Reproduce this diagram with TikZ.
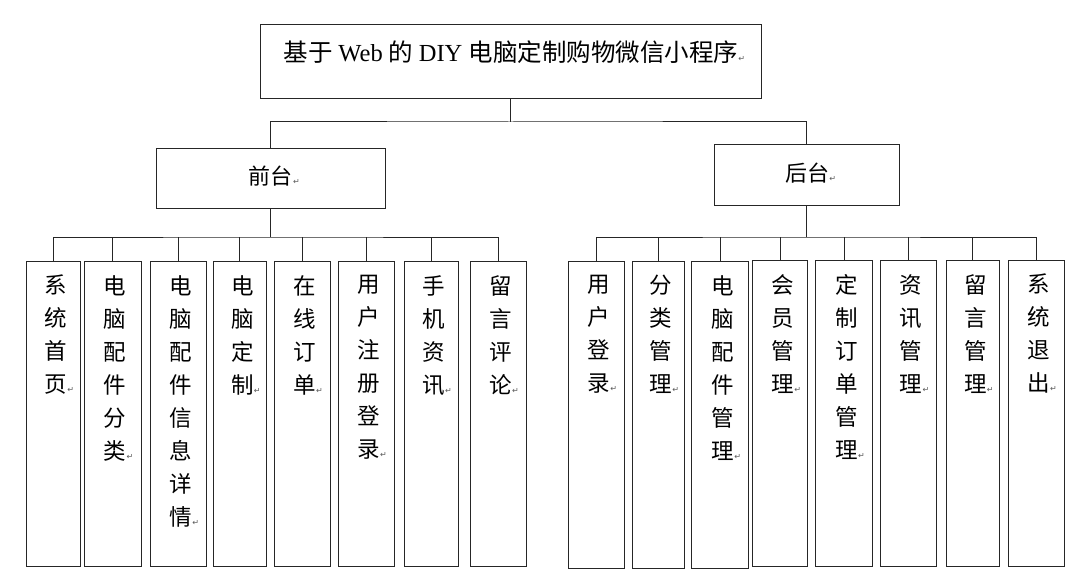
\documentclass[tikz,border=0pt]{standalone}
\usepackage{fontspec}
\setmainfont{Liberation Serif}
\newfontfamily\cjk{Noto Sans CJK SC}
\newfontfamily\symf{DejaVu Sans}
\newcommand{\ret}{\rlap{\kern0.3pt\symf\fontsize{8}{8}\selectfont\textcolor{black!65}{↵}}}
\newcommand{\leafbox}[6]{%
  \node[box, minimum width=#4pt, minimum height=#5pt] (#1) at (#2,#3) {};
  \node[leaftxt] (#1t) at ([xshift=2.5pt, yshift=-14.5pt]#1.north) {#6};
}
\begin{document}
\begin{tikzpicture}[x=1pt,y=-1pt,
  box/.style={draw=black!85, line width=1pt, rectangle, inner sep=0pt},
  leaftxt/.style={anchor=north, inner sep=0pt, align=center, font=\cjk\fontsize{22.5}{33}\selectfont},
  headtxt/.style={inner sep=0pt, font=\cjk\fontsize{22}{22}\selectfont},
  conn/.style={draw=black!85, line width=1pt}]
\useasboundingbox[fill=white] (0,0) rectangle (1084,580);

% root
\node[box, minimum width=501pt, minimum height=74pt] (root) at (510.5,62) {};
\node[inner sep=0pt, font=\fontsize{24.5}{24.5}\selectfont] (title) at (511,52)
  {\cjk 基于 \rmfamily Web \cjk 的 \rmfamily DIY \cjk 电脑定制购物微信小程序\ret};

% second level
\node[box, minimum width=228.5pt, minimum height=59.5pt] (front) at (270.75,178.75) {};
\node[headtxt] (frontt) at (270.7,176.5) {前台\ret};
\node[box, minimum width=185pt, minimum height=61pt] (back) at (806.5,175.5) {};
\node[headtxt] (backt) at (807,173.4) {后台\ret};

% front leaves
\leafbox{L1}{53.25}{413.5}{53.5}{305}{系\\统\\首\\页\ret}
\leafbox{L2}{112.5}{413.5}{57}{305}{电\\脑\\配\\件\\分\\类\ret}
\leafbox{L3}{178.3}{413.5}{56.6}{305}{电\\脑\\配\\件\\信\\息\\详\\情\ret}
\leafbox{L4}{239.9}{413.5}{52.2}{305}{电\\脑\\定\\制\ret}
\leafbox{L5}{302}{413.5}{56}{305}{在\\线\\订\\单\ret}
\leafbox{L6}{366}{413.5}{56}{305}{用\\户\\注\\册\\登\\录\ret}
\leafbox{L7}{431}{413.5}{54}{305}{手\\机\\资\\讯\ret}
\leafbox{L8}{498}{413.5}{56}{305}{留\\言\\评\\论\ret}

% back leaves
\leafbox{R1}{596.4}{414.5}{55.2}{307}{用\\户\\登\\录\ret}
\leafbox{R2}{658.3}{414.5}{51.4}{307}{分\\类\\管\\理\ret}
\leafbox{R3}{720.25}{414.5}{57.3}{307}{电\\脑\\配\\件\\管\\理\ret}
\leafbox{R4}{780.3}{413}{55.2}{306}{会\\员\\管\\理\ret}
\leafbox{R5}{844}{413}{56.9}{306}{定\\制\\订\\单\\管\\理\ret}
\leafbox{R6}{908.5}{413}{56.2}{306}{资\\讯\\管\\理\ret}
\leafbox{R7}{972.9}{413}{52.3}{306}{留\\言\\管\\理\ret}
\leafbox{R8}{1036}{413}{56}{306}{系\\统\\退\\出\ret}

% root connectors
\coordinate (rbus) at ([yshift=-22.5pt]root.south);
\draw[conn] (root.south) -- (rbus);
\draw[conn] (front.north) |- (rbus) -| (back.north);

% front connectors
\coordinate (fbus) at ([yshift=-28pt]front.south);
\draw[conn] (front.south) -- (fbus);
\draw[conn] (L1.north) |- (fbus) -| (L8.north);
\foreach \n in {L2,L3,L4,L5,L6,L7} \draw[conn] (\n.north) -- (\n.north |- fbus);

% back connectors
\coordinate (bbus) at ([yshift=-30.5pt]back.south);
\draw[conn] (back.south) -- (bbus);
\draw[conn] (R1.north) |- (bbus) -| (R8.north);
\foreach \n in {R2,R3,R4,R5,R6,R7} \draw[conn] (\n.north) -- (\n.north |- bbus);
\end{tikzpicture}
\end{document}
